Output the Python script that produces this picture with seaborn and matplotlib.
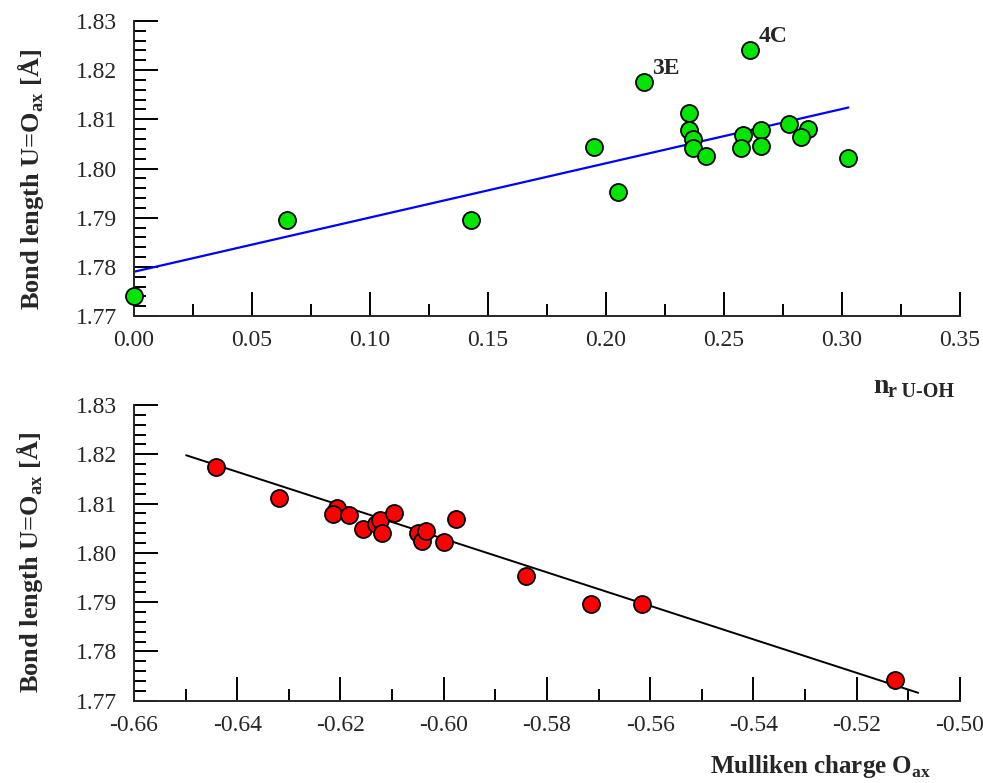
import numpy as np
import pandas as pd
import matplotlib
matplotlib.use("Agg")
import matplotlib.pyplot as plt
import seaborn as sns
from matplotlib.ticker import MultipleLocator, FormatStrFormatter

# --- datos ---
# panel superior: bond length vs n_r U-OH
nr_uoh = [0.000, 0.0647, 0.1428, 0.1951, 0.2052, 0.2161, 0.2353, 0.2353, 0.2367, 0.2367,
          0.2425, 0.2610, 0.2582, 0.2572, 0.2655, 0.2655, 0.2777, 0.2857, 0.2825, 0.3024]
bond_top = [1.7741, 1.7895, 1.7895, 1.8044, 1.7953, 1.8175, 1.8112, 1.8078, 1.8059, 1.8042,
            1.8026, 1.8241, 1.8068, 1.8041, 1.8078, 1.8046, 1.8090, 1.8080, 1.8065, 1.8021]
labels_top = {"3E": (0.2161, 1.8175), "4C": (0.2610, 1.8241)}
fit_top_x = [0.0, 0.3027]
fit_top_y = [1.7790, 1.8124]

# panel inferior: bond length vs Mulliken charge O_ax
mulliken = [-0.6441, -0.6320, -0.6207, -0.6214, -0.6183, -0.6157, -0.6131, -0.6124, -0.6120,
            -0.6097, -0.6050, -0.6042, -0.6034, -0.6000, -0.5976, -0.5840, -0.5714, -0.5615, -0.5125]
bond_bot = [1.8175, 1.8112, 1.8090, 1.8078, 1.8077, 1.8048, 1.8059, 1.8067, 1.8041,
            1.8080, 1.8041, 1.8025, 1.8044, 1.8021, 1.8068, 1.7953, 1.7896, 1.7896, 1.7741]
fit_bot_x = [-0.6499, -0.5081]
fit_bot_y = [1.8198, 1.7716]

df_top = pd.DataFrame({"nr": nr_uoh, "bond": bond_top})
df_bot = pd.DataFrame({"q": mulliken, "bond": bond_bot})
fit_top = pd.DataFrame({"x": fit_top_x, "y": fit_top_y})
fit_bot = pd.DataFrame({"x": fit_bot_x, "y": fit_bot_y})

sns.set_theme(style="ticks")
plt.rcParams["font.family"] = ["Liberation Serif", "DejaVu Serif"]
plt.rcParams["mathtext.fontset"] = "custom"
plt.rcParams["mathtext.rm"] = "Liberation Serif"
plt.rcParams["mathtext.bf"] = "Liberation Serif:bold"
plt.rcParams["axes.unicode_minus"] = False

fig = plt.figure(figsize=(9.83, 7.83), dpi=100)
ax1 = fig.add_axes([0.1363, 0.5964, 0.8403, 0.3768])
ax2 = fig.add_axes([0.1363, 0.1051, 0.8403, 0.3777])

# panel superior
sns.lineplot(data=fit_top, x="x", y="y", ax=ax1, color="#0000ff", linewidth=1.6, zorder=2)
sns.scatterplot(data=df_top, x="nr", y="bond", ax=ax1, color="#00e600", s=150,
                edgecolor="black", linewidth=1.3, zorder=3, clip_on=False)
for lab, (lx, ly) in labels_top.items():
    ax1.annotate(lab, (lx, ly), xytext=(6, 6), textcoords="offset points",
                 fontsize=17, fontweight="bold")
ax1.set_xlim(0, 0.35)
ax1.set_ylim(1.77, 1.83)
ax1.xaxis.set_major_locator(MultipleLocator(0.05))
ax1.xaxis.set_minor_locator(MultipleLocator(0.025))

# panel inferior
sns.lineplot(data=fit_bot, x="x", y="y", ax=ax2, color="black", linewidth=1.4, zorder=2)
sns.scatterplot(data=df_bot, x="q", y="bond", ax=ax2, color="#ff0000", s=150,
                edgecolor="black", linewidth=1.3, zorder=3, clip_on=False)
ax2.set_xlim(-0.66, -0.50)
ax2.set_ylim(1.77, 1.83)
ax2.xaxis.set_major_locator(MultipleLocator(0.02))
ax2.xaxis.set_minor_locator(MultipleLocator(0.01))

for ax in (ax1, ax2):
    sns.despine(ax=ax)
    ax.set_xlabel("")
    ax.set_ylabel("")
    ax.yaxis.set_major_locator(MultipleLocator(0.01))
    ax.yaxis.set_minor_locator(MultipleLocator(0.002))
    ax.xaxis.set_major_formatter(FormatStrFormatter("%.2f"))
    ax.yaxis.set_major_formatter(FormatStrFormatter("%.2f"))
    for sp in ax.spines.values():
        sp.set_linewidth(1.4)
    ax.tick_params(which="major", direction="in", length=17, width=1.4,
                   labelsize=17, color="black")
    ax.tick_params(which="minor", direction="in", length=8.5, width=1.4, color="black")
    ax.tick_params(axis="y", which="major", pad=12)
    ax.tick_params(axis="x", which="major", pad=10)

ylab = "Bond length U=O$_{\\mathbf{ax}}$ [Å]"
fig.text(0.031, 0.771, ylab, rotation=90, ha="center", va="center",
         fontsize=19, fontweight="bold")
fig.text(0.030, 0.281, ylab, rotation=90, ha="center", va="center",
         fontsize=19, fontweight="bold")

fig.text(0.888, 0.498, "n", fontsize=20, fontweight="bold", va="baseline")
fig.text(0.9034, 0.493, "r U-OH", fontsize=14.5, fontweight="bold", va="baseline")
fig.text(0.722, 0.0128, "Mulliken charge O$_{\\mathbf{ax}}$", fontsize=18,
         fontweight="bold", va="baseline")

fig.savefig("out.png", dpi=100)
